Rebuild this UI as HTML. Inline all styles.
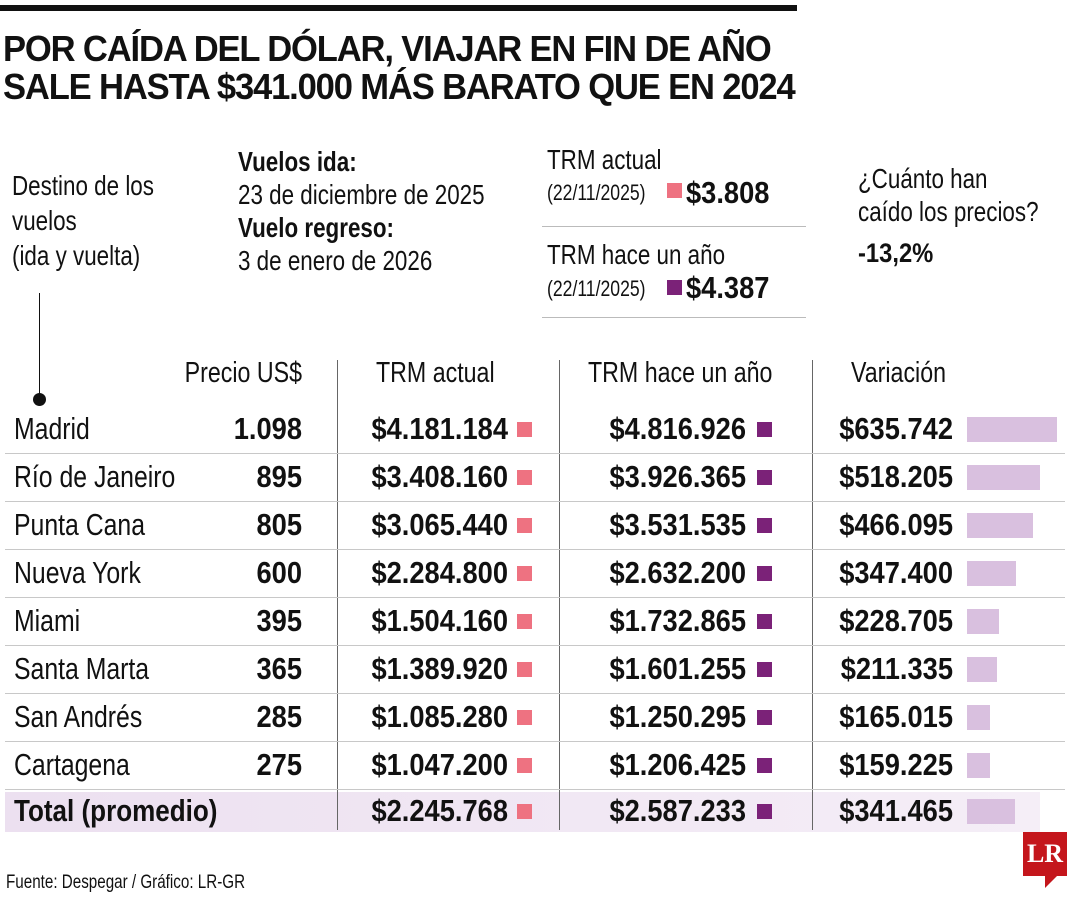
<!DOCTYPE html>
<html><head><meta charset="utf-8"><style>
body{margin:0;width:1080px;height:900px;background:#fff;position:relative;overflow:hidden;font-family:"Liberation Sans",sans-serif;color:#111}
.a{position:absolute;white-space:nowrap;transform-origin:left center}
.b{font-weight:bold}
.r{text-align:right;transform-origin:right center}
.n{transform:scaleX(0.8)}
.bn{transform:scaleX(0.88)}
.sq{position:absolute;width:15px;height:15px}
.hl{position:absolute;height:1px;background:#bbb}
.vl{position:absolute;width:1px;background:#666}
</style></head><body>
<div class="a" style="left:0;top:5px;width:797px;height:6px;background:#111"></div>
<div class="a b" style="left:3px;top:30px;font-size:36px;line-height:38px;letter-spacing:-1.2px;transform:scaleX(0.96)">POR CAÍDA DEL DÓLAR, VIAJAR EN FIN DE AÑO<br>SALE HASTA $341.000 MÁS BARATO QUE EN 2024</div>
<div class="a n" style="left:12px;top:168px;font-size:28px;line-height:35px">Destino de los<br>vuelos<br>(ida y vuelta)</div>
<div class="a" style="left:39px;top:293px;width:1px;height:107px;background:#111"></div>
<div class="a" style="left:33px;top:393px;width:13px;height:13px;border-radius:50%;background:#111"></div>
<div class="a n" style="left:238px;top:145px;font-size:28px;line-height:33px"><b>Vuelos ida:</b><br>23 de diciembre de 2025<br><b>Vuelo regreso:</b><br>3 de enero de 2026</div>
<div class="a n" style="left:547px;top:145px;font-size:28px;line-height:30px">TRM actual</div>
<div class="a n" style="left:547px;top:180px;font-size:22px">(22/11/2025)</div>
<div class="sq" style="left:667px;top:183px;background:#ee7281"></div>
<div class="a b bn" style="left:686px;top:175px;font-size:31px">$3.808</div>
<div class="hl" style="left:542px;top:226px;width:264px"></div>
<div class="a n" style="left:547px;top:240px;font-size:28px;line-height:30px">TRM hace un año</div>
<div class="a n" style="left:547px;top:276px;font-size:22px">(22/11/2025)</div>
<div class="sq" style="left:667px;top:280px;background:#7b2278"></div>
<div class="a b bn" style="left:686px;top:270px;font-size:31px">$4.387</div>
<div class="hl" style="left:542px;top:317px;width:264px"></div>
<div class="a n" style="left:858px;top:162px;font-size:28px;line-height:33px">¿Cuánto han<br>caído los precios?</div>
<div class="a b bn" style="left:858px;top:238px;font-size:27px">-13,2%</div>
<div class="a" style="left:5px;top:792px;width:1035px;height:40px;background:linear-gradient(90deg,#ece0f0,#f5eef7)"></div>
<div class="a r n" style="left:100px;width:202px;top:357px;font-size:29px">Precio US$</div>
<div class="a n" style="left:376px;top:357px;font-size:29px">TRM actual</div>
<div class="a n" style="left:588px;top:357px;font-size:29px">TRM hace un año</div>
<div class="a n" style="left:851px;top:357px;font-size:29px">Variación</div>
<div class="vl" style="left:337px;top:360px;height:470px"></div>
<div class="vl" style="left:559px;top:360px;height:470px"></div>
<div class="vl" style="left:812px;top:360px;height:470px"></div>
<div id="rows"></div>
<div class="a n" style="left:6px;top:872px;font-size:19px">Fuente: Despegar / Gráfico: LR-GR</div>
<div class="a" style="left:1023px;top:832px;width:44px;height:44px;background:#c4161c;color:#fff;font-family:'Liberation Serif',serif;font-weight:bold;font-size:26px;line-height:44px;text-align:center">LR</div>
<div class="a" style="left:1045px;top:876px;width:0;height:0;border-left:12px solid #c4161c;border-bottom:12px solid transparent"></div>
<script>
const cities=["Madrid","Río de Janeiro","Punta Cana","Nueva York","Miami","Santa Marta","San Andrés","Cartagena","Total (promedio)"];
const prices=["1.098","895","805","600","395","365","285","275",""];
const trmActual=[4181184,3408160,3065440,2284800,1504160,1389920,1085280,1047200,2245768];
const trmYear=[4816926,3926365,3531535,2632200,1732865,1601255,1250295,1206425,2587233];
const variation=[635742,518205,466095,347400,228705,211335,165015,159225,341465];
const fmt=v=>'$'+v.toString().replace(/\B(?=(\d{3})+(?!\d))/g,'.');
const yRow=i=>429+i*48-(i==8?2:0);
const xBar=v=>v*90/635742;
const root=document.getElementById('rows');
function mk(cls,style,text){const d=document.createElement('div');d.className=cls;d.style.cssText=style;if(text!==undefined)d.textContent=text;root.appendChild(d);return d;}
cities.forEach((c,i)=>{
 const y=yRow(i),tot=i==8;
 let e=mk('a'+(tot?' b bn':' n'),`left:14px;top:${y-19}px;font-size:31px;line-height:38px`+(tot?';transform:scaleX(0.84)':''),c);
 
 
 if(prices[i]){e=mk('a b r bn',`left:150px;width:152px;top:${y-19}px;font-size:31px;line-height:38px`,prices[i]);
 
 }
 e=mk('a b r bn',`left:300px;width:208px;top:${y-19}px;font-size:31px;line-height:38px`,fmt(trmActual[i]));
 
 
 e=mk('sq',`left:517px;top:${y-7}px;background:#ee7281`);
 
 
 e=mk('a b r bn',`left:540px;width:206px;top:${y-19}px;font-size:31px;line-height:38px`,fmt(trmYear[i]));
 
 
 e=mk('sq',`left:757px;top:${y-7}px;background:#7b2278`);
 
 
 e=mk('a b r bn',`left:780px;width:173px;top:${y-19}px;font-size:31px;line-height:38px`,fmt(variation[i]));
 
 
 e=mk('a',`left:967px;top:${y-12}px;width:${xBar(variation[i])}px;height:25px;background:#d9c0df`);
 
 
 if(i<8){e=mk('hl',`left:5px;top:${y+24}px;width:1060px;background:#c8c8c8`);
 
 }
});
</script>
</body></html>
